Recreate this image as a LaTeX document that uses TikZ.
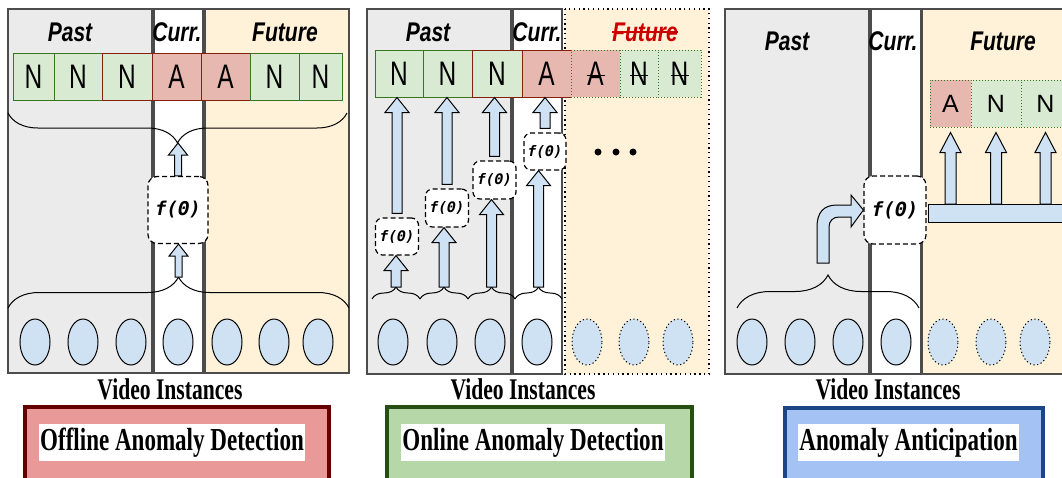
\documentclass[tikz,border=0pt]{standalone}
\usepackage{fontspec}
\setmainfont{Liberation Serif}
\setsansfont{Liberation Sans}
\newfontfamily\fmono{DejaVu Sans Mono}[ItalicFont={* Oblique}, BoldFont={* Bold}, BoldItalicFont={* Bold Oblique}]
\usepackage{graphicx}
\usepackage{xcolor}
\usetikzlibrary{calc,shapes.geometric,decorations.pathreplacing}

\definecolor{pastgray}{HTML}{EBEBEB}
\definecolor{futyel}{HTML}{FFF2D8}
\definecolor{ngreen}{HTML}{D9EAD3}
\definecolor{ngreenb}{HTML}{38761D}
\definecolor{ared}{HTML}{E6B8AF}
\definecolor{aredb}{HTML}{85200C}
\definecolor{iblue}{HTML}{CFE2F3}
\definecolor{futred}{HTML}{CC0000}
\definecolor{offfill}{HTML}{EA9999}
\definecolor{offedge}{HTML}{660000}
\definecolor{onfill}{HTML}{B6D7A8}
\definecolor{onedge}{HTML}{274E13}
\definecolor{antfill}{HTML}{A4C2F4}
\definecolor{antedge}{HTML}{1C4587}

\newcommand{\sq}[1]{\scalebox{0.78}[1]{#1}}
\newcommand{\sqq}[1]{\scalebox{0.72}[1]{#1}}
% block arrow pointing up: from, to, shaft half width, head half width, head length
\newcommand{\blkarrow}[5]{\draw[blk] let \p1=(#1), \p2=(#2) in
  (\x1-#3,\y1) -- (\x1-#3,\y2-#5) -- (\x1-#4,\y2-#5) -- (\x1,\y2) -- (\x1+#4,\y2-#5) -- (\x1+#3,\y2-#5) -- (\x1+#3,\y1) -- cycle;}

\tikzset{
  region/.style={draw=black!70, line width=1.3pt},
  ttl/.style={font=\sffamily\bfseries\itshape\fontsize{27}{27}\selectfont, inner sep=0pt},
  lab/.style={minimum height=47pt, inner sep=0pt, line width=1pt, font=\sffamily\fontsize{34}{34}\selectfont},
  nbox/.style={lab, fill=ngreen, draw=ngreenb},
  abox/.style={lab, fill=ared, draw=aredb},
  fbox/.style={draw, dash pattern=on 5pt off 3pt, line width=1.2pt, fill=white, rounded corners=9pt, inner sep=0pt, font=\fmono\bfseries\itshape\fontsize{19}{19}\selectfont},
  fsmall/.style={fbox, rounded corners=7pt, font=\fmono\bfseries\itshape\fontsize{14.5}{14.5}\selectfont},
  inst/.style={ellipse, draw, line width=1pt, fill=iblue, minimum width=30pt, minimum height=46pt},
  ghost/.style={inst, dash pattern=on 1.2pt off 2.5pt},
  blk/.style={draw, line width=1pt, fill=iblue},
  brc/.style={decorate, decoration={brace, amplitude=#1}, line width=1pt},
  vid/.style={font=\bfseries\fontsize{30}{30}\selectfont},
  task/.style={fill=white, inner xsep=1.5pt, inner ysep=0pt, minimum height=37pt, font=\bfseries\fontsize{32}{32}\selectfont},
  strike/.style={line width=1.7pt},
}

\begin{document}
\begin{tikzpicture}[x=1pt,y=-1pt]
    \useasboundingbox (0,0) rectangle (1062,477);
    \clip (0,0) rectangle (1062,477);

    % Offline
    \draw[region, fill=pastgray] (8,9) rectangle (152,373);
    \draw[region, fill=white] (154,9) rectangle (203,373);
    \draw[region, fill=futyel] (205,9) rectangle (349,373);
    \node[ttl] (p1) at (70,32) {\sq{Past}};
    \node[ttl] (c1) at (177,32) {\sq{Curr.}};
    \node[ttl] (u1) at (285,32) {\sq{Future}};

    \node[nbox, minimum width=41pt] (off1) at (33.5,77) {\sqq{N}};
    \node[nbox, minimum width=48pt] (off2) at (78,77) {\sqq{N}};
    \node[nbox, draw=aredb, minimum width=50pt] (off3) at (127,77) {\sqq{N}};
    \node[abox, minimum width=49pt] (off4) at (176.5,77) {\sqq{A}};
    \node[abox, minimum width=49pt] (off5) at (225.5,77) {\sqq{A}};
    \node[nbox, minimum width=49pt] (off6) at (274.5,77) {\sqq{N}};
    \node[nbox, minimum width=43pt] (off7) at (320.5,77) {\sqq{N}};

    \draw[brc=30pt] (347,113) -- (8,113);
    \coordinate (offtop) at (177.5,143);
    \draw[brc=31pt] (8,308) -- (349,308);
    \coordinate (offbot) at (178.5,277);

    \node[fbox, minimum width=60pt, minimum height=67pt] (offf) at (178,210) {f(Θ)};
    \blkarrow{offf.north}{offtop}{3.5pt}{9.5pt}{12pt}
    \blkarrow{offbot}{offf.south}{3.5pt}{9.5pt}{12pt}

    \node[inst] (o1) at (35,342) {};
    \node[inst] (o2) at (83,342) {};
    \node[inst] (o3) at (131,342) {};
    \node[inst] (o4) at (178,342) {};
    \node[inst] (o5) at (227,342) {};
    \node[inst] (o6) at (274,342) {};
    \node[inst] (o7) at (318,342) {};

    \node[vid] (v1) at (170,389) {\sqq{Video Instances}};
    \draw[line width=4pt, draw=offedge, fill=offfill] (25,407) rectangle (329,500);
    \node[task] (t1) at (172,442.5) {\sqq{Offline Anomaly Detection}};

    % Online
    \draw[region, fill=pastgray] (367,9) rectangle (511,374);
    \draw[region, fill=white] (513,9) rectangle (562,374);
    \draw[line width=1.3pt, dash pattern=on 1.3pt off 3.5pt, fill=futyel] (565,9) rectangle (709,374);
    \node[ttl] (p2) at (428,32) {\sq{Past}};
    \node[ttl] (c2) at (537,32) {\sq{Curr.}};
    \node[ttl, text=futred] (u2) at (645,32) {\sq{Future}};
    \draw[strike, futred] (u2.west) -- (u2.east);

    \node[nbox, minimum width=48pt] (on1) at (399,73.5) {\sqq{N}};
    \node[nbox, minimum width=49pt] (on2) at (447.5,73.5) {\sqq{N}};
    \node[nbox, draw=aredb, minimum width=50pt] (on3) at (497,73.5) {\sqq{N}};
    \node[abox, minimum width=49pt] (on4) at (546.5,73.5) {\sqq{A}};
    \node[abox, draw=ngreenb, dotted, minimum width=49pt] (on5) at (595.5,73.5) {\sqq{A}};
    \node[nbox, dotted, minimum width=38pt] (on6) at (639,73.5) {\sqq{N}};
    \node[nbox, dotted, minimum width=43pt] (on7) at (679.5,73.5) {\sqq{N}};
    \draw[strike] ([shift={(-9pt,-2pt)}]on5.center) -- ([shift={(9pt,-2pt)}]on5.center);
    \draw[strike] ([shift={(-9pt,-2pt)}]on6.center) -- ([shift={(9pt,-2pt)}]on6.center);
    \draw[strike] ([shift={(-9pt,-2pt)}]on7.center) -- ([shift={(9pt,-2pt)}]on7.center);

    \draw[brc=12pt] (372,299) -- (420,299);
    \draw[brc=12pt] (420,299) -- (468,299);
    \draw[brc=12pt] (468,299) -- (515,299);
    \draw[brc=12pt] (515,299) -- (562,299);
    \coordinate (onb1) at (396,287);
    \coordinate (onb2) at (444,287);
    \coordinate (onb3) at (491.5,287);
    \coordinate (onb4) at (538.5,287);

    \node[fsmall, minimum width=43pt, minimum height=37pt] (onf1) at (397,236.5) {f(Θ)};
    \node[fsmall, minimum width=43pt, minimum height=38pt] (onf2) at (447,208) {f(Θ)};
    \node[fsmall, minimum width=43pt, minimum height=38pt] (onf3) at (494.5,180) {f(Θ)};
    \node[fsmall, minimum width=42pt, minimum height=37pt] (onf4) at (545,151.5) {f(Θ)};

    \blkarrow{onb1}{onf1.south}{5pt}{12pt}{15pt}
    \blkarrow{onb2}{onf2.south}{5pt}{12pt}{15pt}
    \blkarrow{onb3}{onf3.south}{5pt}{12pt}{15pt}
    \blkarrow{onb4}{onf4.south}{5pt}{12pt}{15pt}
    \blkarrow{[yshift=4pt]onf1.north}{on1.south}{5pt}{12pt}{15pt}
    \blkarrow{[yshift=4pt]onf2.north}{on2.south}{5pt}{12pt}{15pt}
    \blkarrow{[yshift=4pt]onf3.north}{on3.south}{5pt}{12pt}{15pt}
    \blkarrow{[yshift=4pt]onf4.north}{on4.south}{5pt}{12pt}{15pt}

    \fill (598,152) circle (3.5pt);
    \fill (616,152) circle (3.5pt);
    \fill (633,152) circle (3.5pt);

    \node[inst] (q1) at (393,342) {};
    \node[inst] (q2) at (442,342) {};
    \node[inst] (q3) at (490,342) {};
    \node[inst] (q4) at (537,342) {};
    \node[ghost] (q5) at (587,342) {};
    \node[ghost] (q6) at (634,342) {};
    \node[ghost] (q7) at (678,342) {};

    \node[vid] (v2) at (523,389) {\sqq{Video Instances}};
    \draw[line width=4pt, draw=onedge, fill=onfill] (387,407) rectangle (692,500);
    \node[task] (t2) at (533,442.5) {\sqq{Online Anomaly Detection}};

    % Anticipation
    \draw[region, fill=pastgray] (725,9) rectangle (869,374);
    \draw[region, fill=white] (871,9) rectangle (921,374);
    \draw[region, fill=futyel] (922,9) rectangle (1080,374);
    \node[ttl] (p3) at (787,41) {\sq{Past}};
    \node[ttl] (c3) at (893,41) {\sq{Curr.}};
    \node[ttl] (u3) at (1003,41) {\sq{Future}};

    \node[abox, draw=ngreenb, dotted, minimum width=41pt, font=\sffamily\fontsize{25}{25}\selectfont] (an1) at (950.5,103.5) {A};
    \node[nbox, dotted, minimum width=50pt, font=\sffamily\fontsize{25}{25}\selectfont] (an2) at (996,103.5) {N};
    \node[nbox, dotted, minimum width=49pt, font=\sffamily\fontsize{25}{25}\selectfont] (an3) at (1045.5,103.5) {N};

    \node[blk, inner sep=0pt, anchor=north west, minimum width=152pt, minimum height=18pt] (bar) at (928,204) {};
    \blkarrow{an1.south |- bar.north}{[yshift=-5pt]an1.south}{5.5pt}{10.5pt}{20pt}
    \blkarrow{an2.south |- bar.north}{[yshift=-5pt]an2.south}{5.5pt}{10.5pt}{20pt}
    \blkarrow{an3.south |- bar.north}{[yshift=-5pt]an3.south}{5.5pt}{10.5pt}{20pt}

    \node[fbox, minimum width=62pt, minimum height=68pt, font=\fmono\bfseries\itshape\fontsize{19.5}{19.5}\selectfont] (antf) at (895,210) {f(Θ)};
    \draw[blk] (817,263) -- (817,227) .. controls (817,213) and (823,205) .. (837,205) -- (851,205) -- (851,195)
        -- (antf.west) -- (851,227) -- (851,217) -- (839,217) .. controls (833,217) and (829,221) .. (829,227) -- (829,263) -- cycle;

    \draw[brc=33pt] (737,308) -- (919,308);

    \node[inst] (r1) at (752,342) {};
    \node[inst] (r2) at (800,342) {};
    \node[inst] (r3) at (848,342) {};
    \node[inst] (r4) at (896,342) {};
    \node[ghost] (r5) at (943,342) {};
    \node[ghost] (r6) at (991,342) {};
    \node[ghost] (r7) at (1035,342) {};

    \node[vid] (v3) at (888,389) {\sqq{Video Instances}};
    \draw[line width=4pt, draw=antedge, fill=antfill] (785,408) rectangle (1043,500);
    \node[task] (t3) at (908.5,442.5) {\sqq{Anomaly Anticipation}};
\end{tikzpicture}
\end{document}
